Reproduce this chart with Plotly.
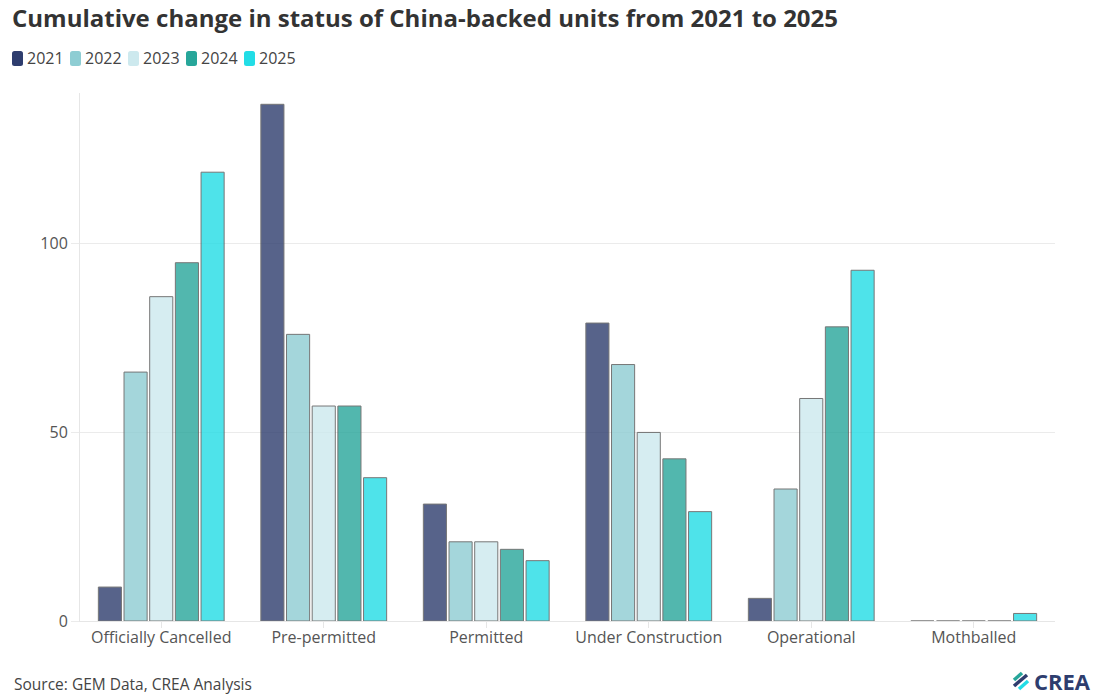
import plotly.graph_objects as go

categories = ["Officially Cancelled", "Pre-permitted", "Permitted", "Under Construction", "Operational", "Mothballed"]
years = ["2021", "2022", "2023", "2024", "2025"]
values = {
    "2021": [9, 137, 31, 79, 6, 0],
    "2022": [66, 76, 21, 68, 35, 0],
    "2023": [86, 57, 21, 50, 59, 0],
    "2024": [95, 57, 19, 43, 78, 0],
    "2025": [119, 38, 16, 29, 93, 2],
}
colors = {
    "2021": "#2e3d6e",
    "2022": "#8ecdd3",
    "2023": "#cde9ee",
    "2024": "#27a69a",
    "2025": "#22dde6",
}

FONT = "Open Sans"

fig = go.Figure()
for y in years:
    fig.add_trace(go.Bar(
        name=y, x=categories, y=values[y],
        marker=dict(color=colors[y], opacity=0.8, line=dict(color="#555555", width=1)),
    ))

W, H = 1108, 699
L, R, T, B = 80, 53, 93, 78
PW, PH = W - L - R, H - T - B

def px(xp):
    return (xp - L) / PW
def py(yp):
    return (H - B - yp) / PH

fig.update_layout(
    width=W, height=H,
    paper_bgcolor="white", plot_bgcolor="white",
    margin=dict(l=L, r=R, t=T, b=B, autoexpand=False),
    barmode="group", bargap=0.21, bargroupgap=0.1,
    font=dict(family=FONT, color="#555555", size=16),
    title=dict(text="<b>Cumulative change in status of China-backed units from 2021 to 2025</b>",
               x=12 / W, xanchor="left", y=1 - 19 / H, yanchor="middle",
               font=dict(family=FONT, size=24, color="#333333")),
    showlegend=False,
)
fig.update_xaxes(showgrid=False, showline=True, linecolor="#e6e6e6", linewidth=1,
                 ticks="outside", tickcolor="#e6e6e6", ticklen=6, ticklabelstandoff=-4,
                 tickfont=dict(family=FONT, size=16, color="#555555"))
fig.update_yaxes(range=[0, 140], dtick=50, showgrid=True, gridcolor="#ebebeb",
                 showline=True, linecolor="#e6e6e6", linewidth=1,
                 ticks="outside", tickcolor="#ebebeb", ticklen=8, zeroline=False,
                 tickfont=dict(family=FONT, size=16, color="#555555"))

# legend row: rounded swatch + label per series
def rounded_rect(x0, y0, x1, y1, r=2.5):
    pts = [
        f"M {px(x0 + r)},{py(y0)}",
        f"L {px(x1 - r)},{py(y0)}", f"Q {px(x1)},{py(y0)} {px(x1)},{py(y0 + r)}",
        f"L {px(x1)},{py(y1 - r)}", f"Q {px(x1)},{py(y1)} {px(x1 - r)},{py(y1)}",
        f"L {px(x0 + r)},{py(y1)}", f"Q {px(x0)},{py(y1)} {px(x0)},{py(y1 - r)}",
        f"L {px(x0)},{py(y0 + r)}", f"Q {px(x0)},{py(y0)} {px(x0 + r)},{py(y0)}", "Z",
    ]
    return " ".join(pts)

for i, y in enumerate(years):
    sx = 12 + 58 * i
    fig.add_shape(type="path", xref="paper", yref="paper",
                  path=rounded_rect(sx, 51, sx + 11, 66),
                  fillcolor=colors[y], line=dict(width=0))
    fig.add_annotation(text=y, xref="paper", yref="paper", x=px(sx + 13), y=py(58.5),
                       xanchor="left", yanchor="middle", showarrow=False,
                       font=dict(family=FONT, size=16, color="#444444"))

fig.add_annotation(text="Source: GEM Data, CREA Analysis", xref="paper", yref="paper",
                   x=px(12), y=py(684), xanchor="left", yanchor="middle", showarrow=False,
                   font=dict(family=FONT, size=15.5, color="#444444"))
fig.add_annotation(text="<b>CREA</b>", xref="paper", yref="paper",
                   x=px(1093), y=py(681), xanchor="right", yanchor="middle",
                   showarrow=False, font=dict(family=FONT, size=22, color="#2e3d6e"))
# small logo mark
for (x0, y0, x1, y1, c) in [(1014, 680, 1022, 673, "#27a69a"),
                             (1014, 686, 1027, 675, "#2e3d6e"),
                             (1019, 689, 1028, 681, "#22dde6")]:
    fig.add_shape(type="line", xref="paper", yref="paper",
                  x0=px(x0), y0=py(y0), x1=px(x1), y1=py(y1),
                  line=dict(color=c, width=3.5))

fig.write_html("out.html", config={"displayModeBar": False},
               post_script="document.body.style.margin='0';document.body.style.overflow='hidden';")
